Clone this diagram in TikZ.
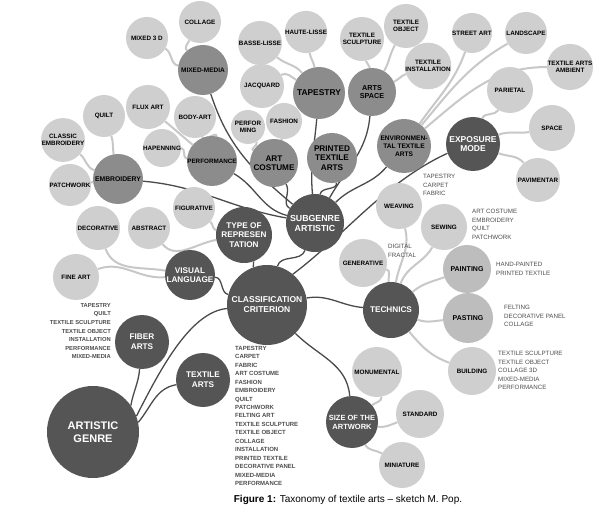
\documentclass[tikz,border=0pt]{standalone}
\usepackage{fontspec}
\setmainfont{Liberation Sans}
\usetikzlibrary{backgrounds}
\definecolor{lightc}{HTML}{CFCFCF}
\definecolor{midlc}{HTML}{BDBDBD}
\definecolor{medc}{HTML}{8C8C8C}
\definecolor{darkc}{HTML}{555555}
\definecolor{linel}{HTML}{C8C8C8}
\definecolor{lined}{HTML}{4A4A4A}
\definecolor{listc}{HTML}{4D4D4D}
\newcommand{\fs}[2]{\fontsize{#1}{#2}\selectfont}
\tikzset{
  bub/.style={circle, inner sep=0pt, align=center},
  lt/.style={bub, fill=lightc, text=black, font=\bfseries\fs{6.3}{7}},
  lm/.style={bub, fill=midlc, text=black, font=\bfseries\fs{7}{7.6}},
  md/.style={bub, fill=medc, text=black, font=\bfseries\fs{7.2}{8.2}},
  dk/.style={bub, fill=darkc, text=white, font=\bfseries\fs{8.2}{9.6}},
  ll/.style={draw=linel, line width=2pt},
  dl/.style={draw=lined, line width=1.3pt},
  lst/.style={inner sep=0pt, text=listc, font=\fs{6.2}{8.6}},
}
\begin{document}
\begin{tikzpicture}[x=1pt,y=-1pt]
\useasboundingbox (0,0) rectangle (599,518);

% light nodes
\node[lt, minimum size=42pt] (collage) at (200,22) {COLLAGE};
\node[lt, minimum size=42pt] (mixed3d) at (147,38) {MIXED 3 D};
\node[lt, minimum size=44pt] (basse) at (260,43) {BASSE-LISSE};
\node[lt, minimum size=42pt] (haute) at (306,32) {HAUTE-LISSE};
\node[lt, minimum size=44pt] (jacq) at (262,86) {JACQUARD};
\node[lt, minimum size=44pt] (tsculpt) at (362,39) {TEXTILE\\SCULPTURE};
\node[lt, minimum size=44pt] (tobject) at (406,26) {TEXTILE\\OBJECT};
\node[lt, minimum size=44pt] (tinstall) at (428,66) {TEXTILE\\INSTALLATION};
\node[lt, minimum size=40pt] (street) at (472,33) {STREET ART};
\node[lt, minimum size=42pt] (landscape) at (526,33) {LANDSCAPE};
\node[lt, minimum size=46pt] (ambient) at (570,67) {TEXTILE ARTS\\AMBIENT};
\node[lt, minimum size=46pt] (parietal) at (510,90) {PARIETAL};
\node[lt, minimum size=46pt] (space) at (552,128) {SPACE};
\node[lt, minimum size=44pt] (pavimentar) at (538,180) {PAVIMENTAR};
\node[lt, minimum size=34pt] (performing) at (248,127) {PERFOR\\MING};
\node[lt, minimum size=36pt] (fashion) at (284,121) {FASHION};
\node[lt, minimum size=44pt] (fluxart) at (148,107) {FLUX ART};
\node[lt, minimum size=42pt] (bodyart) at (195,117) {BODY-ART};
\node[lt, minimum size=42pt] (quilt) at (104,116) {QUILT};
\node[lt, minimum size=40pt] (classic) at (63,140) {CLASSIC\\EMBROIDERY};
\node[lt, minimum size=38pt] (hapenning) at (162,148) {HAPENNING};
\node[lt, minimum size=42pt] (patchwork) at (70,185) {PATCHWORK};
\node[lt, minimum size=44pt] (decorative) at (98,228) {DECORATIVE};
\node[lt, minimum size=42pt] (abstract) at (149,228) {ABSTRACT};
\node[lt, minimum size=42pt] (figurative) at (194,208) {FIGURATIVE};
\node[lt, minimum size=46pt] (fineart) at (76,277) {FINE ART};
\node[lt, minimum size=48pt] (generative) at (363,263) {GENERATIVE};
\node[lt, minimum size=46pt] (weaving) at (399,206) {WEAVING};
\node[lt, minimum size=46pt] (sewing) at (444,227) {SEWING};
\node[lm, minimum size=48pt] (painting) at (467,269) {PAINTING};
\node[lm, minimum size=50pt] (pasting) at (468,318) {PASTING};
\node[lt, minimum size=48pt] (building) at (472,371) {BUILDING};
\node[lt, minimum size=50pt] (monumental) at (377,372) {MONUMENTAL};
\node[lt, minimum size=48pt] (standard) at (420,414) {STANDARD};
\node[lt, minimum size=46pt] (miniature) at (402,465) {MINIATURE};

% medium nodes
\node[md, minimum size=50pt, font=\bfseries\fs{6.5}{7}] (mixedmedia) at (203,70) {MIXED-MEDIA};
\node[md, minimum size=52pt, font=\bfseries\fs{8.4}{9}] (tapestry) at (319,93) {TAPESTRY};
\node[md, minimum size=48pt] (artsspace) at (372,92) {ARTS\\SPACE};
\node[md, minimum size=54pt, font=\bfseries\fs{6.6}{8}] (env) at (404,146) {ENVIRONMEN-\\TAL TEXTILE\\ARTS};
\node[md, minimum size=48pt, font=\bfseries\fs{8.2}{9.5}] (artcostume) at (274,163) {ART\\COSTUME};
\node[md, minimum size=50pt, font=\bfseries\fs{8.2}{9.5}] (printed) at (332,158) {PRINTED\\TEXTILE\\ARTS};
\node[md, minimum size=50pt, font=\bfseries\fs{6.3}{7}] (performance) at (212,161) {PERFORMANCE};
\node[md, minimum size=50pt, font=\bfseries\fs{6.8}{7}] (embroidery) at (118,179) {EMBROIDERY};

% dark nodes
\node[dk, minimum size=54pt, font=\bfseries\fs{8.5}{9.6}] (exposure) at (473,144) {EXPOSURE\\MODE};
\node[dk, minimum size=50pt] (visual) at (190,275) {VISUAL\\LANGUAGE};
\node[dk, minimum size=56pt] (type) at (244,235) {TYPE OF\\REPRESEN\\TATION};
\node[dk, minimum size=58pt, font=\bfseries\fs{8.8}{10}] (subgenre) at (315,223) {SUBGENRE\\ARTISTIC};
\node[dk, minimum size=80pt, font=\bfseries\fs{8.5}{10}] (classif) at (267,305) {CLASSIFICATION\\CRITERION};
\node[dk, minimum size=56pt] (technics) at (391,310) {TECHNICS};
\node[dk, minimum size=52pt, font=\bfseries\fs{7.5}{9}] (size) at (352,422) {SIZE OF THE\\ARTWORK};
\node[dk, minimum size=54pt] (fiber) at (142,342) {FIBER\\ARTS};
\node[dk, minimum size=54pt] (textilearts) at (203,380) {TEXTILE\\ARTS};
\node[dk, minimum size=92pt, font=\bfseries\fs{11}{13}] (artgenre) at (93,432) {ARTISTIC\\GENRE};

% text lists
\node[lst, anchor=north west, align=left] (lweav) at (423,174) {TAPESTRY\\CARPET\\FABRIC};
\node[lst, anchor=north west, align=left] (lsew) at (472,209) {ART COSTUME\\EMBROIDERY\\QUILT\\PATCHWORK};
\node[lst, anchor=north west, align=left] (lpaint) at (496,262) {HAND-PAINTED\\PRINTED TEXTILE};
\node[lst, anchor=north west, align=left] (lpast) at (504,305) {FELTING\\DECORATIVE PANEL\\COLLAGE};
\node[lst, anchor=north west, align=left] (lbuild) at (498,351) {TEXTILE SCULPTURE\\TEXTILE OBJECT\\COLLAGE 3D\\MIXED-MEDIA\\PERFORMANCE};
\node[lst, anchor=north west, align=left] (lgen) at (388,244) {DIGITAL\\FRACTAL};
\node[lst, anchor=north east, align=right, font=\bfseries\fs{5.8}{8.6}] (lfiber) at (111,303) {TAPESTRY\\QUILT\\TEXTILE SCULPTURE\\TEXTILE OBJECT\\INSTALLATION\\PERFORMANCE\\MIXED-MEDIA};
\node[lst, anchor=north west, align=left, font=\bfseries\fs{6}{8.45}] (ltext) at (235,346) {TAPESTRY\\CARPET\\FABRIC\\ART COSTUME\\FASHION\\EMBROIDERY\\QUILT\\PATCHWORK\\FELTING ART\\TEXTILE SCULPTURE\\TEXTILE OBJECT\\COLLAGE\\INSTALLATION\\PRINTED TEXTILE\\DECORATIVE PANEL\\MIXED-MEDIA\\PERFORMANCE};

% caption
\node[font=\fs{10}{11}] (cap) at (348,500) {\textbf{Figure 1:} Taxonomy of textile arts -- sketch M. Pop.};

\begin{pgfonlayer}{background}
\fill[white] (0,0) rectangle (599,518);
% light connectors
\draw[ll] (collage) to[out=-120,in=130] (mixedmedia);
\draw[ll] (mixed3d) to[out=-30,in=170] (mixedmedia);
\draw[ll] (basse) to[out=-40,in=130] (tapestry);
\draw[ll] (haute) to[out=-80,in=100] (tapestry);
\draw[ll] (jacq) to[out=30,in=150] (tapestry);
\draw[ll] (tsculpt) to[out=-80,in=95] (artsspace);
\draw[ll] (tobject) to[out=-120,in=60] (artsspace);
\draw[ll] (tinstall) to[out=200,in=25] (artsspace);
\draw[ll] (street) to[out=-110,in=55] (env);
\draw[ll] (landscape) to[out=-150,in=50] (env);
\draw[ll] (ambient) to[out=180,in=40] (env);
\draw[ll] (parietal) to[out=-120,in=70] (exposure);
\draw[ll] (space) to[out=190,in=20] (exposure);
\draw[ll] (pavimentar) to[out=130,in=-20] (exposure);
\draw[ll] (performing) to[out=-60,in=150] (artcostume);
\draw[ll] (fashion) to[out=-100,in=70] (artcostume);
\draw[ll] (fluxart) to[out=-40,in=140] (performance);
\draw[ll] (bodyart) to[out=-70,in=80] (performance);
\draw[ll] (hapenning) to[out=0,in=175] (performance);
\draw[ll] (quilt) to[out=-70,in=100] (embroidery);
\draw[ll] (classic) to[out=-40,in=160] (embroidery);
\draw[ll] (patchwork) -- (embroidery);
\draw[ll] (figurative) to[out=-40,in=170] (type);
\draw[ll] (abstract) to[out=-50,in=190] (type);
\draw[ll] (decorative) to[out=-70,in=170] (visual);
\draw[ll] (fineart) to[out=20,in=185] (visual);
\draw[ll] (generative) to[out=-15,in=95] (technics);
\draw[ll] (weaving) to[out=-75,in=80] (technics);
\draw[ll] (sewing) to[out=-120,in=70] (technics);
\draw[ll] (painting) to[out=200,in=40] (technics);
\draw[ll] (pasting) to[out=185,in=-20] (technics);
\draw[ll] (building) to[out=160,in=-50] (technics);
\draw[ll] (monumental) to[out=-80,in=40] (size);
\draw[ll] (standard) to[out=200,in=-10] (size);
\draw[ll] (miniature) to[out=150,in=-60] (size);
% dark connectors
\draw[dl] (mixedmedia) to[out=-72,in=140] (subgenre);
\draw[dl] (tapestry) to[out=-95,in=95] (subgenre);
\draw[dl] (artsspace) to[out=-95,in=60] (subgenre);
\draw[dl] (printed) to[out=-80,in=80] (subgenre);
\draw[dl] (artcostume) to[out=-60,in=150] (subgenre);
\draw[dl] (performance) to[out=-30,in=165] (subgenre);
\draw[dl] (embroidery) to[out=-5,in=170] (subgenre);
\draw[dl] (env) to[out=-130,in=45] (subgenre);
\draw[dl] (exposure.200) .. controls (385,182) and (345,235) .. (classif.50);
\draw[dl] (subgenre) to[out=-110,in=75] (classif);
\draw[dl] (type) to[out=-70,in=110] (classif);
\draw[dl] (visual) to[out=-5,in=165] (classif);
\draw[dl] (classif) to[out=10,in=175] (technics);
\draw[dl] (classif) to[out=-45,in=95] (size);
\draw[dl] (artgenre.20) .. controls (160,370) and (190,312) .. (classif.185);
\draw[dl] (artgenre.35) to[out=80,in=-95] (fiber);
\draw[dl] (artgenre.12) to[out=50,in=190] (textilearts);
\end{pgfonlayer}
\end{tikzpicture}
\end{document}
